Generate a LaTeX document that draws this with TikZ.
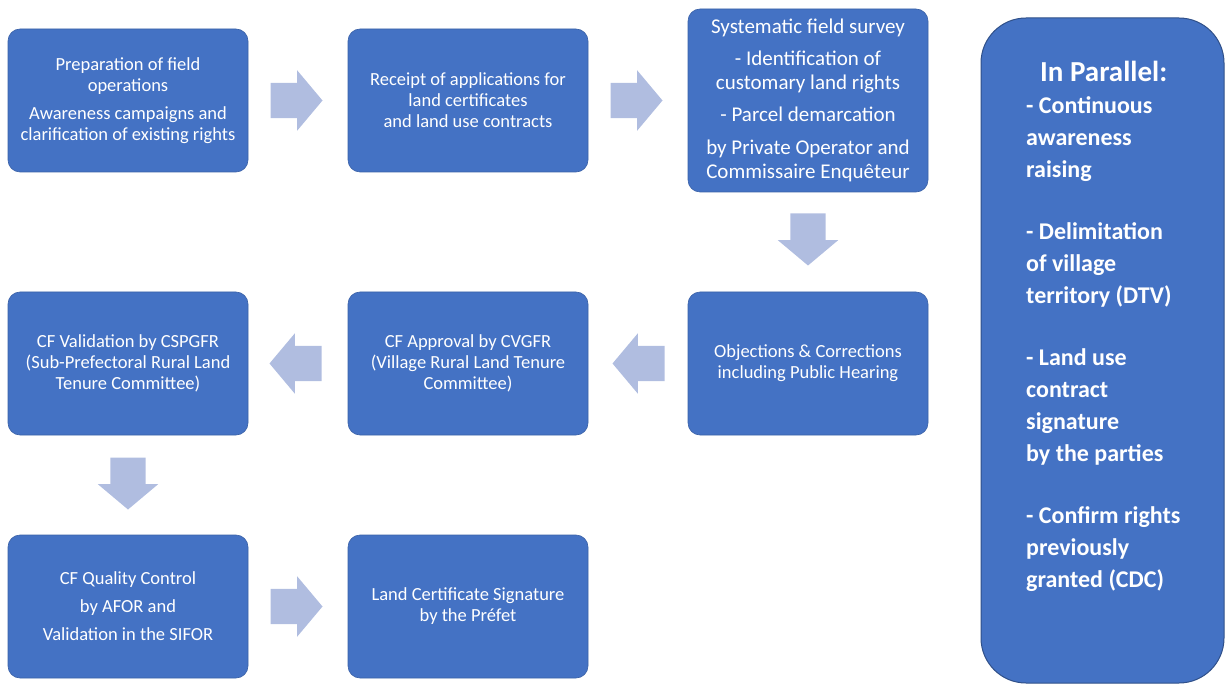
\documentclass[tikz,border=0pt]{standalone}
\usepackage{fontspec}
\setmainfont{Carlito}
\usetikzlibrary{shapes.arrows}

\definecolor{boxblue}{HTML}{4472C4}
\definecolor{arrowblue}{HTML}{B0BDE0}

\begin{document}
\begin{tikzpicture}[x=1pt, y=-1pt,
    stepbox/.style={rectangle, rounded corners=12pt, fill=boxblue, draw=boxblue!85!black, line width=0.6pt, text=white, align=center, minimum width=240pt, minimum height=143pt, inner sep=2pt, font=\fontsize{18.5}{21}\selectfont},
    flow/.style={single arrow, fill=arrowblue, draw=none, text height=35pt, text depth=0pt, minimum height=52pt, single arrow head extend=12.5pt, single arrow tip angle=100, single arrow head indent=0pt, inner sep=0pt, anchor=tail}
]
\useasboundingbox (0,0) rectangle (1225,684);

% Etapes
\node[stepbox] (prep) at (128,100.5) {Preparation of field\\operations\\[7pt]Awareness campaigns and\\clarification of existing rights};
\node[stepbox] (receipt) at (468,100.5) {Receipt of applications for\\land certificates\\and land use contracts};
\node[stepbox, minimum height=183pt, font=\fontsize{21}{24}\selectfont] (survey) at (808,100.5) {Systematic field survey\\[8pt]- Identification of\\customary land rights\\[8pt]- Parcel demarcation\\[9pt]by Private Operator and\\Commissaire Enquêteur};

\node[stepbox] (objections) at (808,363.5) {Objections \& Corrections\\including Public Hearing};
\node[stepbox] (approval) at (468,363.5) {CF Approval by CVGFR\\(Village Rural Land Tenure\\Committee)};
\node[stepbox] (validation) at (128,363.5) {CF Validation by CSPGFR\\(Sub-Prefectoral Rural Land\\Tenure Committee)};

\node[stepbox] (quality) at (128,606.5) {CF Quality Control\\[7pt]by AFOR and\\[7pt]Validation in the SIFOR};
\node[stepbox] (signature) at (468,606.5) {Land Certificate Signature\\by the Préfet};

% En parallele
\node[rectangle, rounded corners=45pt, fill=boxblue, draw=boxblue!70!black, line width=1pt, minimum width=243pt, minimum height=665pt] (parallel) at (1102.5,350.5) {};
\node[anchor=north west, align=left, inner sep=0pt, text=white, font=\bfseries\fontsize{24}{32}\selectfont] (paralleltext) at (1026,61) {\hspace*{14pt}{\fontsize{29}{32}\selectfont In Parallel:}\\
- Continuous\\awareness\\raising\\[30pt]
- Delimitation\\of village\\territory (DTV)\\[30pt]
- Land use\\contract\\signature\\by the parties\\[30pt]
- Confirm rights\\previously\\granted (CDC)};

% Fleches
\node[flow] (a1) at ([xshift=22pt]prep.east) {};
\node[flow] (a2) at ([xshift=22pt]receipt.east) {};
\node[flow, rotate=-90] (a3) at ([yshift=-21pt]survey.south) {};
\node[flow, shape border rotate=180] (a4) at ([xshift=-23pt]objections.west) {};
\node[flow, shape border rotate=180] (a5) at ([xshift=-26pt]approval.west) {};
\node[flow, rotate=-90] (a6) at ([yshift=-22pt]validation.south) {};
\node[flow] (a7) at ([xshift=22pt]quality.east) {};

\end{tikzpicture}
\end{document}
